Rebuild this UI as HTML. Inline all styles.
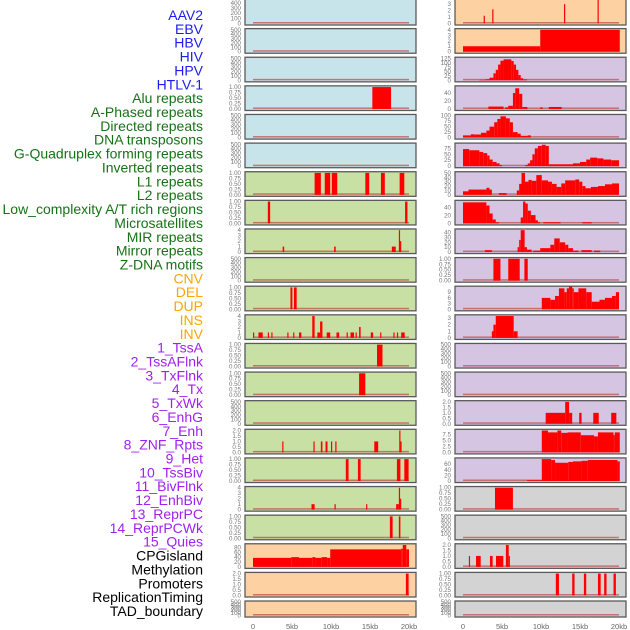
<!DOCTYPE html>
<html><head><meta charset="utf-8"><style>
html,body{margin:0;padding:0;background:#fff;}
svg{display:block;font-family:"Liberation Sans",sans-serif;}
</style></head><body>
<svg id="chart" width="630" height="630" viewBox="0 0 630 630" xmlns="http://www.w3.org/2000/svg"></svg>
<script>
// ---- track labels ----
const trackLabels = ["AAV2","EBV","HBV","HIV","HPV","HTLV-1","Alu repeats","A-Phased repeats","Directed repeats","DNA transposons","G-Quadruplex forming repeats","Inverted repeats","L1 repeats","L2 repeats","Low_complexity A/T rich regions","Microsatellites","MIR repeats","Mirror repeats","Z-DNA motifs","CNV","DEL","DUP","INS","INV","1_TssA","2_TssAFlnk","3_TxFlnk","4_Tx","5_TxWk","6_EnhG","7_Enh","8_ZNF_Rpts","9_Het","10_TssBiv","11_BivFlnk","12_EnhBiv","13_ReprPC","14_ReprPCWk","15_Quies","CPGisland","Methylation","Promoters","ReplicationTiming","TAD_boundary"];
const labelColors = ["#1c1cf0","#1c1cf0","#1c1cf0","#1c1cf0","#1c1cf0","#1c1cf0","#167216","#167216","#167216","#167216","#167216","#167216","#167216","#167216","#167216","#167216","#167216","#167216","#167216","#ffa500","#ffa500","#ffa500","#ffa500","#ffa500","#a020f0","#a020f0","#a020f0","#a020f0","#a020f0","#a020f0","#a020f0","#a020f0","#a020f0","#a020f0","#a020f0","#a020f0","#a020f0","#a020f0","#a020f0","#000","#000","#000","#000","#000"];
const xTicks = [0,5,10,15,20];
const xTickLabels = ["0","5kb","10kb","15kb","20kb"];

// ---- tick sets ----
const T500 = [0,100,200,300,400,500], T500L = ["0","100","200","300","400","500"];
const T1 = [0,0.25,0.5,0.75,1], T1L = ["0.00","0.25","0.50","0.75","1.00"];
const T2 = [0,0.5,1,1.5,2], T2L = ["0.0","0.5","1.0","1.5","2.0"];
const T4 = [0,1,2,3,4], T4L = ["0","1","2","3","4"];

// ---- segment data per panel: [startKb, endKb, value] ----
const L03 = [[15.3,17.7,1]];
const L06 = [[7.9,8.7,1],[9.2,9.9,1],[10.1,10.8,1],[14.4,14.9,1],[16.4,16.9,1],[18.8,19.4,1]];
const L07 = [[1.9,2.2,1],[19.5,19.8,1]];
const L08 = [[3.8,4.0,1],[10.4,10.6,1],[17.8,18.3,1],[18.7,18.85,4],[18.85,19.0,2]];
const L10 = [[4.8,5.05,1],[5.25,5.6,1]];
const L11 = [[0.0,0.15,1],[0.7,1.25,1],[1.9,2.05,1],[2.35,2.5,1],[4.4,4.55,1],[5.15,5.3,1],[5.9,6.2,1],[7.6,7.9,4],[8.25,8.6,1],[8.6,8.9,3],[9.45,9.9,1],[10.7,11.05,1],[12.0,12.15,1],[12.5,12.95,1],[13.15,13.3,1],[13.6,13.8,2],[15.1,15.4,1],[16.3,16.45,1],[18.0,18.15,1],[18.45,18.6,1],[19.0,19.45,1]];
const L12 = [[15.9,16.6,1]];
const L13 = [[13.6,14.4,1]];
const L15 = [[3.75,3.9,1],[7.75,7.9,1],[8.7,8.9,1],[9.3,9.55,1],[10.0,10.15,1],[10.55,10.7,1],[15.55,16.05,1],[18.75,18.9,2],[18.9,19.0,1]];
const L16 = [[11.9,12.25,1],[13.45,13.8,1],[18.45,18.9,1],[19.4,19.95,1]];
const L17 = [[7.5,7.9,1],[10.45,10.6,1],[14.5,14.65,1],[18.35,18.7,1],[18.7,18.85,4],[18.85,19.0,2]];
const L18 = [[17.55,17.9,1],[18.7,18.9,1]];
const L19 = [[0,4.9,37],[4.9,5.9,40],[5.9,7.6,37],[7.6,8.0,40],[8.0,8.8,37],[8.8,9.5,40],[9.5,9.9,37],[9.9,19.0,72],[19.0,19.2,75],[19.2,19.65,90],[19.65,20,72]];
const L20 = [[19.6,19.95,2]];
const R00 = [[2.65,2.8,1.2],[3.75,3.9,2.2],[12.95,13.1,3],[17.25,17.4,4]];
const R01 = [[0,9.9,1],[9.9,20.1,4]];
const R02 = [[2.1,2.9,3],[2.9,3.4,6],[3.4,3.9,15],[3.9,4.2,40],[4.2,4.5,60],[4.5,4.8,90],[4.8,5.2,112],[5.2,6.2,120],[6.2,6.5,110],[6.5,6.8,90],[6.8,7.1,60],[7.1,7.4,30],[7.4,7.7,12],[7.7,8.2,5]];
const R03 = [[3.25,5.2,6],[5.4,5.8,4],[5.8,6.4,8],[6.4,6.7,40],[6.7,7.2,52],[7.2,7.6,38],[7.6,8.25,5],[9.9,10.2,4],[11.0,12.65,5]];
const R04 = [[0,1,10],[1,1.5,15],[1.5,2.3,14],[2.3,3,22],[3,3.4,32],[3.4,4,50],[4,4.4,70],[4.4,4.8,85],[4.8,5.5,97],[5.5,6,88],[6,6.4,70],[6.4,7,25],[7,7.4,18],[7.4,8.3,8],[8.3,8.7,10]];
const R05 = [[0,0.8,72],[0.8,2.1,67],[2.1,2.6,60],[2.6,3.1,55],[3.1,3.4,45],[3.4,3.8,28],[3.8,4.3,18],[4.3,4.7,12],[4.7,5.0,5],[8.0,8.3,5],[8.3,8.6,12],[8.6,8.9,25],[8.9,9.2,50],[9.2,9.6,75],[9.6,10.1,85],[10.1,10.6,90],[10.6,11.0,85],[11.0,14.1,8],[14.1,15,12],[15,15.8,18],[15.8,16.3,28],[16.3,17.2,36],[17.2,18,33],[18,19,28],[19,20,25]];
const R06 = [[0,0.7,8],[0.7,3.0,12],[3.0,3.4,16],[3.4,3.7,12],[4.6,5.6,4],[6.9,7.2,10],[7.2,7.5,25],[7.5,7.95,50],[7.95,8.4,30],[8.4,8.8,34],[8.8,9.4,32],[9.4,10.1,45],[10.1,10.9,33],[10.9,11.4,30],[11.4,12.0,25],[12.0,12.6,18],[12.6,13.1,26],[13.1,14.4,33],[14.4,14.9,35],[14.9,15.3,30],[15.3,15.7,20],[15.7,16.4,15],[16.4,17.3,18],[17.3,18.2,20],[18.2,19.1,24],[19.1,20,26]];
const R07 = [[0,3.0,53],[3.0,3.4,45],[3.4,3.8,25],[3.8,4.2,10],[4.2,4.6,3],[7.4,7.7,15],[7.7,8.0,55],[8.0,8.3,50],[8.3,8.7,32],[8.7,9.3,21],[9.3,9.6,8],[9.6,9.9,3],[10.3,12.5,3],[15.3,16.5,3]];
const R08 = [[2.8,3.7,4],[7.0,7.2,10],[7.2,7.4,25],[7.4,7.9,45],[7.9,8.2,10],[8.2,8.8,5],[9.0,9.9,3],[9.9,11.2,8],[11.2,11.7,15],[11.7,12.4,28],[12.4,13.1,20],[13.1,13.5,15],[13.5,14.1,8],[14.1,14.8,3],[15.2,16.5,4],[16.8,17.6,3]];
const R09 = [[3.9,4.8,1],[5.8,7.27,1],[7.87,8.3,1]];
const R10 = [[10.1,11.2,6],[11.2,11.8,5],[11.8,12.3,7],[12.3,13.0,11],[13.0,13.3,9],[13.3,13.6,11],[13.6,14.0,12],[14.0,14.2,11],[14.2,14.8,9],[14.8,15.8,11],[15.8,16.5,9],[16.5,17.5,4],[17.5,18.2,5],[18.2,19.1,6],[19.1,19.6,7],[19.6,20,9]];
const R11 = [[3.7,3.9,1],[3.9,4.2,2],[4.2,6.5,3.3],[6.5,7.0,1]];
const R14 = [[10.6,13.1,1],[13.1,13.6,2],[13.6,14.0,1],[14.9,15.2,1],[16.7,17.4,1],[19.0,19.66,1]];
const R15 = [[10.1,10.9,9.3],[10.9,12.1,8.5],[12.1,12.6,9.3],[12.6,13.4,8.3],[13.4,15.1,8.5],[15.1,16.8,7.3],[16.8,17.3,6.8],[17.3,19.3,8.5],[19.3,19.45,7.3],[19.45,20.1,8.5]];
const R16 = [[8.2,10.1,3],[10.1,11.3,78],[11.3,11.8,75],[11.8,13.5,65],[13.5,14.1,68],[14.1,15.2,70],[15.2,16.0,72],[16.0,19.8,75],[19.8,20.1,70]];
const R17 = [[4.1,6.4,1]];
const R19 = [[0.75,0.9,1],[1.67,2.27,1],[3.46,3.8,1],[4.23,5.17,1],[5.5,5.86,2],[5.86,6.0,1]];
const R20 = [[11.9,12.3,1],[14.0,14.3,1],[15.5,15.8,1],[17.3,17.65,1],[18.1,18.4,1],[19.3,19.6,1]];

const BLUE="#c8e4eb", GREEN="#c8e0a3", ORANGE="#fdd1a2", PURPLE="#d5c5e2", GRAY="#d3d3d3";
const panels = [
 ["L",0,BLUE,500,T500,T500L,[]],["L",1,BLUE,500,T500,T500L,[]],["L",2,BLUE,500,T500,T500L,[]],
 ["L",3,BLUE,1,T1,T1L,L03],["L",4,BLUE,500,T500,T500L,[]],["L",5,BLUE,500,T500,T500L,[]],
 ["L",6,GREEN,1,T1,T1L,L06],["L",7,GREEN,1,T1,T1L,L07],["L",8,GREEN,4,T4,T4L,L08],
 ["L",9,GREEN,500,T500,T500L,[]],["L",10,GREEN,1,T1,T1L,L10],["L",11,GREEN,4,T4,T4L,L11],
 ["L",12,GREEN,1,T1,T1L,L12],["L",13,GREEN,1,T1,T1L,L13],["L",14,GREEN,500,T500,T500L,[]],
 ["L",15,GREEN,2,T2,T2L,L15],["L",16,GREEN,1,T1,T1L,L16],["L",17,GREEN,4,T4,T4L,L17],
 ["L",18,GREEN,1,T1,T1L,L18],["L",19,ORANGE,90,[0,20,40,60,80],["0","20","40","60","80"],L19],
 ["L",20,ORANGE,2,T2,T2L,L20],["L",21,ORANGE,500,T500,T500L,[]],
 ["R",0,ORANGE,4,T4,T4L,R00],["R",1,ORANGE,4,T4,T4L,R01],
 ["R",2,PURPLE,125,[0,25,50,75,100,125],["0","25","50","75","100","125"],R02],
 ["R",3,PURPLE,55,[0,20,40],["0","20","40"],R03],
 ["R",4,PURPLE,100,[0,25,50,75,100],["0","25","50","75","100"],R04],
 ["R",5,PURPLE,92,[0,25,50,75],["0","25","50","75"],R05],
 ["R",6,PURPLE,50,[0,10,20,30,40,50],["0","10","20","30","40","50"],R06],
 ["R",7,PURPLE,55,[0,20,40],["0","20","40"],R07],
 ["R",8,PURPLE,45,[0,10,20,30,40],["0","10","20","30","40"],R08],
 ["R",9,PURPLE,1,T1,T1L,R09],
 ["R",10,PURPLE,11.5,[0,3,6,9],["0","3","6","9"],R10],
 ["R",11,PURPLE,3.3,[0,1,2,3],["0","1","2","3"],R11],
 ["R",12,PURPLE,500,T500,T500L,[]],["R",13,PURPLE,500,T500,T500L,[]],
 ["R",14,PURPLE,2,T2,T2L,R14],
 ["R",15,PURPLE,9.3,[0,2.5,5,7.5],["0.0","2.5","5.0","7.5"],R15],
 ["R",16,PURPLE,78,[0,20,40,60],["0","20","40","60"],R16],
 ["R",17,GRAY,1,T1,T1L,R17],["R",18,GRAY,500,T500,T500L,[]],
 ["R",19,GRAY,2,T2,T2L,R19],["R",20,GRAY,1,T1,T1L,R20],["R",21,GRAY,500,T500,T500L,[]]
];

const NS="http://www.w3.org/2000/svg";
const svg=document.getElementById('chart');
function mk(tag,attrs,parent){const e=document.createElementNS(NS,tag);for(const k in attrs)e.setAttribute(k,attrs[k]);(parent||svg).appendChild(e);return e;}

// labels
trackLabels.forEach((t,i)=>{
  const e=mk('text',{x:203,y:20+i*13.86,'text-anchor':'end','font-size':14,fill:labelColors[i]});
  e.textContent=t;
  
  
});

const colX={L:{frame:245,x0:253},R:{frame:455,x0:463}};
const PXKB=7.8;
function xScale(col,kb){return colX[col].x0+kb*PXKB;}
function rowTop(r){return r===0?-3.5:r*28.62;}
function rowH(r){return r===0?28.5:(r===21?16:24.6);}

panels.forEach(p=>{
  const [col,row,bg,yMax,ticks,tickL,data]=p;
  const T=rowTop(row),H=rowH(row),fx=colX[col].frame;
  const g=mk('g',{});
  
  
  const y0=T+H-1.5, yt=T+1.2;
  const yS=v=>y0-(v/yMax)*(y0-yt);
  const r=mk('rect',{x:fx,y:T,width:171,height:H,fill:bg,stroke:'#5a5a5a','stroke-width':1.3},g);
  
  
  const base=mk('rect',{x:xScale(col,0),y:y0-1.5,width:20*PXKB,height:1.5,fill:'#c0504f',opacity:0.75},g);
  
  
  data.forEach(d=>{
    const x1=xScale(col,d[0]),x2=xScale(col,d[1]),yy=yS(d[2]);
    const b=mk('rect',{x:x1,y:yy,width:Math.max(1.2,x2-x1),height:y0-yy,fill:'#ff0000'},g);
    
    
  });
  ticks.forEach((t,i)=>{
    const ty=yS(t);
    if(ty<-1)return;
    const tl=mk('text',{x:fx-4,y:ty+2,'text-anchor':'end','font-size':6.2,fill:'#777'},g);
    tl.textContent=tickL[i];
    
    
  });
});

['L','R'].forEach(col=>{
  xTicks.forEach((t,i)=>{
    const e=mk('text',{x:xScale(col,t),y:629,'text-anchor':'middle','font-size':7.5,fill:'#666'});
    e.textContent=xTickLabels[i];
    
    
  });
});
</script>
</body></html>
